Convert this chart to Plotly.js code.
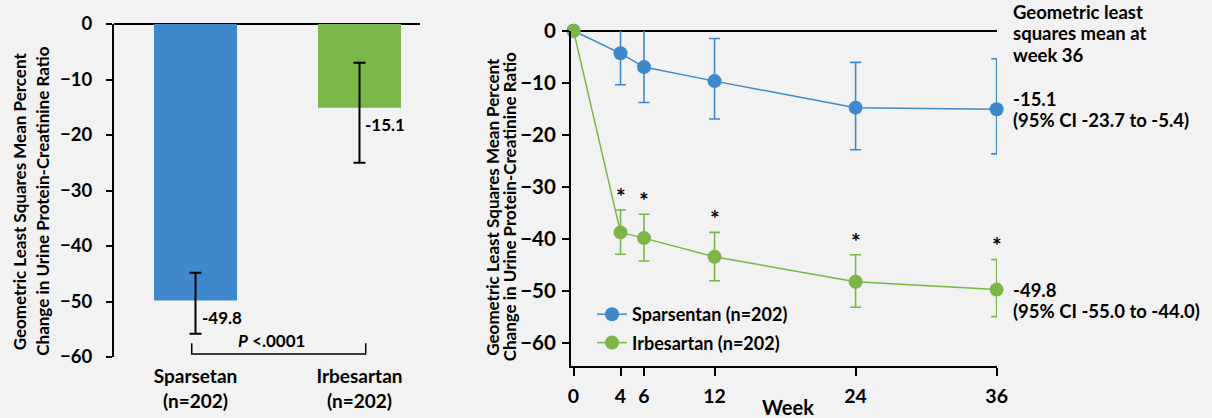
<!DOCTYPE html>
<html><head><meta charset="utf-8">
<script src="https://cdn.plot.ly/plotly-3.0.1.min.js"></script>
<style>html,body{margin:0;padding:0;background:#f2f2f2}#chart{width:1212px;height:418px}</style>
</head><body><div id="chart"></div>
<script>
// ---- Left panel: week 36 bar chart ----
const barCategories = ['Sparsetan', 'Irbesartan'];
const barN = ['(n=202)', '(n=202)'];
const barValues = [-49.8, -15.1];
const barUpper = [-44.8, -7.0];
const barLower = [-55.8, -25.0];
const barLabels = ['-49.8', '-15.1'];
const pValueText = '<i>P</i> <.0001';

// ---- Right panel: over time ----
const weeks = [0, 4, 6, 12, 24, 36];
const weekTicks = [0, 4, 6, 12, 24, 36];
const sparsMean = [0, -4.35, -7.0, -9.7, -14.8, -15.1];
const sparsUpper = [0, 2.4, 0.3, -1.5, -6.1, -5.4];
const sparsLower = [0, -10.4, -13.8, -17.0, -22.9, -23.7];
const irbMean = [0, -38.8, -39.9, -43.5, -48.3, -49.8];
const irbUpper = [0, -34.5, -35.3, -38.8, -43.1, -44.0];
const irbLower = [0, -43.0, -44.3, -48.1, -53.2, -55.0];
const starWeeks = [4, 6, 12, 24, 36];
const seriesNames = ['Sparsentan (n=202)', 'Irbesartan (n=202)'];
const yTicks = [0, -10, -20, -30, -40, -50, -60];
const yTitleLines = ['Geometric Least Squares Mean Percent', 'Change in Urine Protein-Creatinine Ratio'];
const headerLines = ['Geometric least', 'squares mean at', 'week 36'];
const endValueText = ['-15.1', '-49.8'];
const endCIText = ['(95% CI -23.7 to -5.4)', '(95% CI -55.0 to -44.0)'];

const W = 1212, H = 418;
const px = v => v / W, py = v => 1 - v / H;
const BLUE = '#3f88cc', GREEN = '#7ab648', FONT = 'Lato, "Open Sans", sans-serif';
const bold = size => ({family: FONT, size: size, color: '#000', weight: 'bold'});

const traces = [
  {
    type: 'bar', x: [0, 1], y: barValues, width: 0.506,
    marker: {color: [BLUE, GREEN]}, xaxis: 'x', yaxis: 'y', showlegend: false,
    error_y: {type: 'data', symmetric: false,
      array: barUpper.map((u, i) => u - barValues[i]),
      arrayminus: barLower.map((l, i) => barValues[i] - l),
      color: '#000', thickness: 2, width: 6},
    hoverinfo: 'skip'
  },
  {
    type: 'scatter', mode: 'lines+markers', x: weeks, y: sparsMean, name: seriesNames[0],
    xaxis: 'x2', yaxis: 'y2', cliponaxis: false, legendgroup: 'a',
    line: {color: BLUE, width: 1.5}, marker: {color: BLUE, size: 14},
    error_y: {type: 'data', symmetric: false,
      array: sparsUpper.map((u, i) => u - sparsMean[i]),
      arrayminus: sparsLower.map((l, i) => sparsMean[i] - l),
      color: BLUE, thickness: 1.6, width: 5.5}
  },
  {
    type: 'scatter', mode: 'lines+markers', x: weeks, y: irbMean, name: seriesNames[1],
    xaxis: 'x2', yaxis: 'y2', cliponaxis: false, legendgroup: 'b',
    line: {color: GREEN, width: 1.5}, marker: {color: GREEN, size: 14},
    error_y: {type: 'data', symmetric: false,
      array: irbUpper.map((u, i) => u - irbMean[i]),
      arrayminus: irbLower.map((l, i) => irbMean[i] - l),
      color: GREEN, thickness: 1.6, width: 5.5}
  }
];

const annotations = [];
// y titles
[[19.3, 41.7, 201, 17], [491.7, 509.3, 207, 17]].forEach(([x1, x2, yc, fs]) => {
  [x1, x2].forEach((xx, i) => annotations.push({
    xref: 'paper', yref: 'paper', x: px(xx), y: py(yc), xanchor: 'center', yanchor: 'middle',
    text: yTitleLines[i], textangle: -90, showarrow: false, font: bold(fs)
  }));
});
// bar value labels
barLabels.forEach((t, i) => annotations.push({
  xref: 'x', yref: 'y', x: i, y: barValues[i], xanchor: 'left', yanchor: 'middle',
  xshift: 4, yshift: -17, text: t, showarrow: false, font: bold(17)
}));
// p value
annotations.push({
  xref: 'x', yref: 'y', x: 0.466, y: -59.46, xanchor: 'center', yanchor: 'bottom', yshift: 1,
  text: pValueText, showarrow: false, font: bold(17)
});
// asterisks
starWeeks.forEach(w => {
  const i = weeks.indexOf(w);
  annotations.push({
    xref: 'x2', yref: 'y2', x: w, y: irbUpper[i], xanchor: 'center', yanchor: 'bottom', yshift: -2,
    text: '*', showarrow: false, font: bold(23)
  });
});
// header
headerLines.forEach((t, i) => annotations.push({
  xref: 'paper', yref: 'paper', x: px(1011), y: py(11.7 + 21.7 * i), xanchor: 'left', yanchor: 'middle',
  text: t, showarrow: false, font: bold(18.5)
}));
// end labels
[[sparsMean[5], 0], [irbMean[5], -11]].forEach(([v, ys], i) => {
  annotations.push({
    xref: 'x2', yref: 'y2', x: 36, y: v, xanchor: 'left', yanchor: 'middle',
    xshift: 14, yshift: ys + 10.5, text: endValueText[i], showarrow: false, font: bold(18.5)
  });
  annotations.push({
    xref: 'x2', yref: 'y2', x: 36, y: v, xanchor: 'left', yanchor: 'middle',
    xshift: 14, yshift: ys - 10.5, text: endCIText[i], showarrow: false, font: bold(18.5)
  });
});
// Week title
annotations.push({
  xref: 'paper', yref: 'paper', x: px(788), y: 0, xanchor: 'center', yanchor: 'bottom', yshift: -3,
  text: 'Week', showarrow: false, font: bold(20)
});

const layout = {
  width: W, height: H, margin: {l: 0, r: 0, t: 0, b: 0},
  paper_bgcolor: '#f2f2f2', plot_bgcolor: 'rgba(0,0,0,0)',
  font: {family: FONT, color: '#000'},
  xaxis: {domain: [px(114), px(420)], range: [-0.497, 1.369], tickvals: [0, 1],
    ticktext: barCategories.map((c, i) => c + '<br>' + barN[i]),
    showgrid: false, zeroline: false, showline: false, ticks: '', anchor: 'y',
    tickfont: bold(19), ticklabelstandoff: 6},
  yaxis: {domain: [py(357), py(24)], range: [-60, 0], tickvals: yTicks, anchor: 'x',
    showgrid: false, showline: true, linecolor: '#000', linewidth: 2,
    ticks: 'outside', ticklen: 6, tickwidth: 2, tickcolor: '#000',
    zeroline: true, zerolinecolor: '#000', zerolinewidth: 2,
    tickfont: bold(18.5), ticklabelstandoff: 10},
  xaxis2: {domain: [px(571), px(997)], range: [-0.213, 36.03], tickvals: weekTicks, anchor: 'y2',
    showgrid: false, zeroline: false, showline: true, linecolor: '#000', linewidth: 2,
    ticks: 'outside', ticklen: 8, tickwidth: 2, tickcolor: '#000',
    tickfont: bold(19.5), ticklabelstandoff: 4},
  yaxis2: {domain: [py(366), py(30.7)], range: [-64.5, 0], tickvals: yTicks, anchor: 'x2',
    showgrid: false, showline: true, linecolor: '#000', linewidth: 2,
    ticks: 'outside', ticklen: 7, tickwidth: 2, tickcolor: '#000',
    zeroline: true, zerolinecolor: '#000', zerolinewidth: 2,
    tickfont: bold(20.5), ticklabelstandoff: 2},
  shapes: [{type: 'path', xref: 'x', yref: 'y', path: 'M -0.023,-57.5 V -59.46 H 1.038 V -57.5',
    line: {color: '#000', width: 1.5}}],
  legend: {x: px(592), y: py(296), xanchor: 'left', yanchor: 'top', bgcolor: 'rgba(0,0,0,0)',
    traceorder: 'grouped', tracegroupgap: 2, font: bold(18)},
  annotations: annotations,
  showlegend: true
};

Plotly.newPlot('chart', traces, layout, {displayModeBar: false, staticPlot: true});
</script></body></html>
